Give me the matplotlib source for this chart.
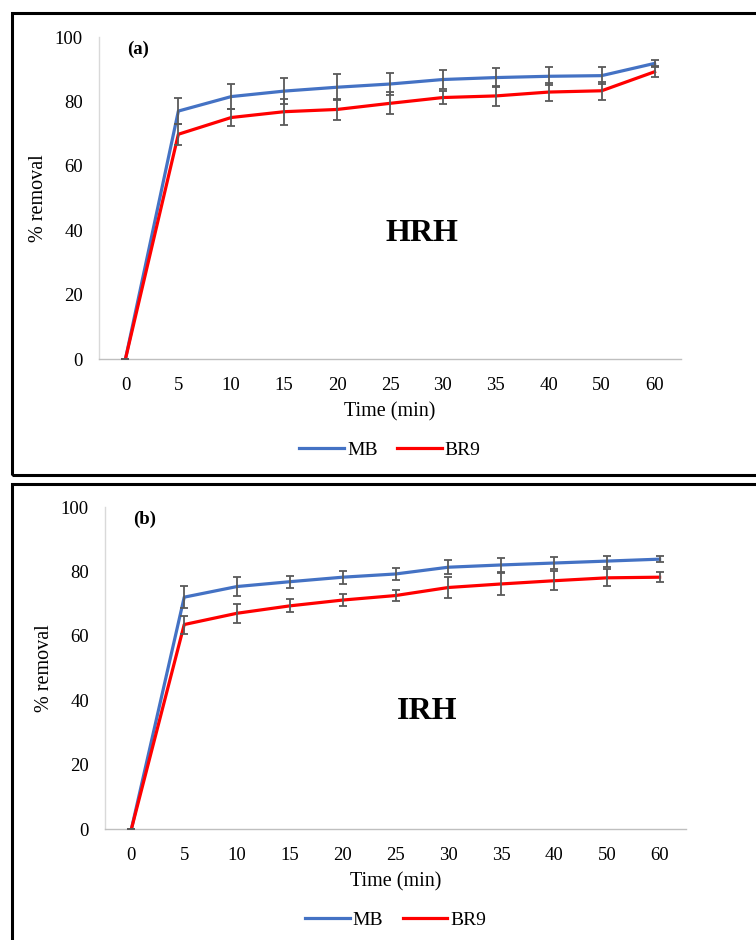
import numpy as np
import matplotlib
matplotlib.use("Agg")
import matplotlib.pyplot as plt
from matplotlib.patches import Rectangle
from matplotlib.lines import Line2D

plt.rcParams['font.family'] = ['Liberation Serif', 'DejaVu Serif']

times = ['0', '5', '10', '15', '20', '25', '30', '35', '40', '50', '60']

# panel (a) HRH
mb_a = [0, 77.0, 81.5, 83.2, 84.4, 85.4, 86.8, 87.4, 87.8, 88.0, 91.8]
mb_a_err = [0, 4.0, 3.8, 4.0, 4.0, 3.5, 3.0, 3.0, 2.8, 2.7, 1.2]
br_a = [0, 69.8, 75.0, 76.8, 77.5, 79.4, 81.2, 81.7, 82.9, 83.3, 89.2]
br_a_err = [0, 3.3, 2.6, 4.0, 3.3, 3.4, 2.0, 3.0, 2.7, 2.8, 1.7]

# panel (b) IRH
mb_b = [0, 72.0, 75.3, 76.8, 78.2, 79.2, 81.3, 82.0, 82.6, 83.2, 83.8]
mb_b_err = [0, 3.5, 3.0, 1.8, 2.0, 1.9, 2.2, 2.3, 2.0, 1.7, 1.0]
br_b = [0, 63.5, 67.0, 69.3, 71.1, 72.5, 75.0, 76.1, 77.1, 78.0, 78.2]
br_b_err = [0, 2.8, 3.0, 2.0, 1.8, 1.7, 3.3, 3.4, 2.9, 2.6, 1.5]

blue = '#4472C4'
red = '#FF0000'
errc = '#595959'

fig = plt.figure(figsize=(7.56, 9.40), dpi=100)

# outer panel frames
fig.patches.append(Rectangle((12 / 756, 1 - 475 / 940), 0.99, 462 / 940,
                             transform=fig.transFigure, fill=False,
                             lw=2.2, ec='black'))
fig.patches.append(Rectangle((12 / 756, -0.02), 0.99, (940 - 484) / 940 + 0.02,
                             transform=fig.transFigure, fill=False,
                             lw=2.2, ec='black'))


def panel(rect, mb, mb_err, br, br_err, tag, name, name_y):
    ax = fig.add_axes(rect)
    x = np.arange(len(times))
    ax.plot(x, mb, color=blue, lw=2.3, zorder=3)
    ax.plot(x, br, color=red, lw=2.3, zorder=3)
    ax.errorbar(x, mb, yerr=mb_err, fmt='none', ecolor=errc, elinewidth=1.3,
                capsize=3, capthick=1.3, zorder=4)
    ax.errorbar(x, br, yerr=br_err, fmt='none', ecolor=errc, elinewidth=1.3,
                capsize=3, capthick=1.3, zorder=4)
    ax.set_xlim(-0.5, len(times) - 0.5)
    ax.set_ylim(0, 100)
    ax.set_xticks(x)
    ax.set_xticklabels(times)
    ax.set_yticks([0, 20, 40, 60, 80, 100])
    ax.tick_params(axis='both', length=0, labelsize=13.5, colors='black')
    ax.tick_params(axis='x', pad=13)
    ax.tick_params(axis='y', pad=11.5)
    for s in ['top', 'right']:
        ax.spines[s].set_visible(False)
    ax.spines['left'].set_color('#D9D9D9')
    ax.spines['bottom'].set_color('#BFBFBF')
    ax.spines['left'].set_linewidth(1)
    ax.spines['bottom'].set_linewidth(1)
    ax.set_xlabel('Time (min)', fontsize=14.5, labelpad=6)
    ax.set_ylabel('% removal', fontsize=14.5, labelpad=5)
    ax.text(0.048, 0.99, tag, transform=ax.transAxes, fontsize=13.5,
            fontweight='bold', va='top')
    ax.text(0.555, name_y, name, transform=ax.transAxes, fontsize=23,
            fontweight='bold', ha='center', va='center')
    handles = [Line2D([], [], color=blue, lw=2.3),
               Line2D([], [], color=red, lw=2.3)]
    ax.legend(handles, ['MB', 'BR9'], loc='upper center',
              bbox_to_anchor=(0.5, -0.2), ncol=2, frameon=False,
              fontsize=14, handlelength=2.3, handletextpad=0.15,
              columnspacing=1.0)
    return ax


panel([99 / 756, 1 - 359 / 940, 582 / 756, 322 / 940],
      mb_a, mb_a_err, br_a, br_a_err, '(a)', 'HRH', 0.39)
panel([105 / 756, 1 - 829 / 940, 581 / 756, 322 / 940],
      mb_b, mb_b_err, br_b, br_b_err, '(b)', 'IRH', 0.365)

fig.savefig('out.png', dpi=100)
